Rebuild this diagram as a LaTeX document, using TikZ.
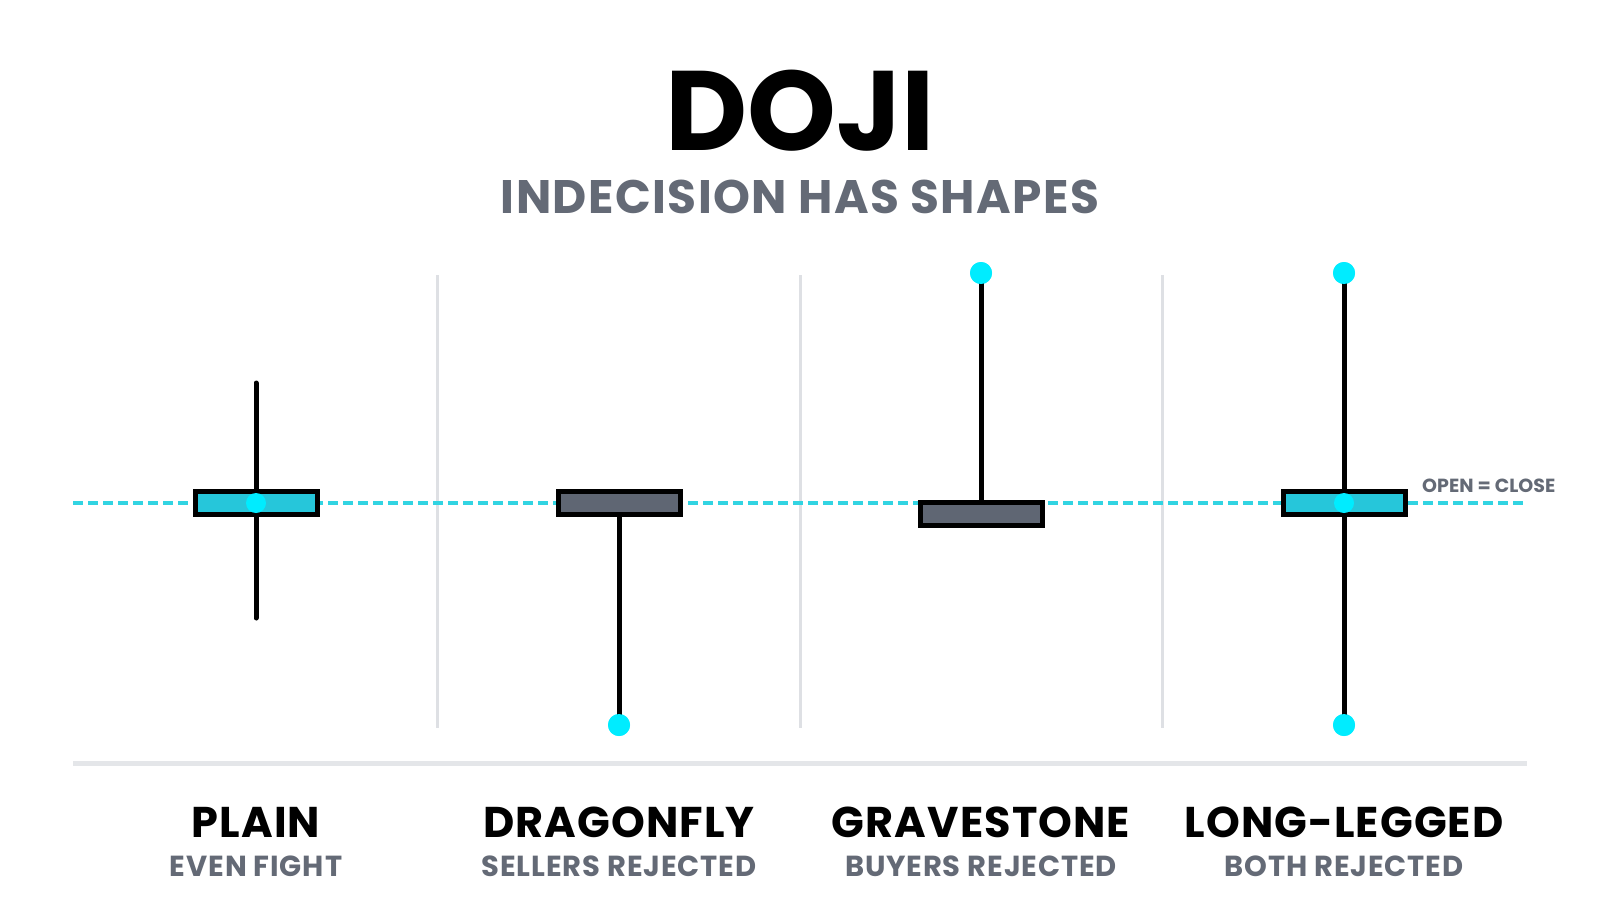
\documentclass[tikz,border=0pt]{standalone}
\usepackage{fontspec}
\setmainfont{Poppins}
\definecolor{dashcyan}{RGB}{50,212,226}
\definecolor{bodycyan}{RGB}{38,198,218}
\definecolor{dotcyan}{RGB}{0,236,255}
\definecolor{bodygray}{RGB}{95,102,115}
\definecolor{txtgray}{RGB}{100,106,118}
\definecolor{sepgray}{RGB}{222,224,228}
\definecolor{basegray}{RGB}{228,230,233}
\tikzset{
  candlebody/.style={draw=black, line width=5pt, minimum width=122pt, minimum height=23pt, inner sep=0pt, outer sep=0pt},
  wick/.style={draw=black, line width=5pt},
  enddot/.style={circle, fill=dotcyan, minimum size=22pt, inner sep=0pt, outer sep=0pt},
  middot/.style={circle, fill=dotcyan, minimum size=20pt, inner sep=0pt, outer sep=0pt},
  sepline/.style={draw=sepgray, line width=3pt},
  title/.style={anchor=base, inner sep=0pt, font=\fontsize{113}{113}\selectfont\bfseries, text=black},
  subtitle/.style={anchor=base, inner sep=0pt, font=\fontsize{47}{47}\selectfont\bfseries\addfontfeatures{LetterSpace=3}, text=txtgray},
  lbl/.style={anchor=base, inner sep=0pt, font=\fontsize{43}{43}\selectfont\bfseries\addfontfeatures{LetterSpace=2.5}, text=black},
  sublbl/.style={anchor=base, inner sep=0pt, font=\fontsize{29}{29}\selectfont\bfseries\addfontfeatures{LetterSpace=3}, text=txtgray},
  note/.style={anchor=base west, inner sep=0pt, font=\fontsize{19}{19}\selectfont\bfseries, text=txtgray},
}
\begin{document}
\begin{tikzpicture}[x=1pt, y=-1pt]
\useasboundingbox[fill=white] (0,0) rectangle (1600,914);
% titles
\node[title] (t) at (800,150) {DOJI};
\node[subtitle] (st) at (800,213) {INDECISION HAS SHAPES};
% separators
\coordinate (s1a) at (437,275); \coordinate (s1b) at (437,728);
\coordinate (s2a) at (800,275); \coordinate (s2b) at (800,728);
\coordinate (s3a) at (1162,275); \coordinate (s3b) at (1162,728);
\draw[sepline] (s1a) -- (s1b);
\draw[sepline] (s2a) -- (s2b);
\draw[sepline] (s3a) -- (s3b);
% baseline
\coordinate (bla) at (73,763); \coordinate (blb) at (1527,763);
\draw[draw=basegray, line width=5pt] (bla) -- (blb);
% open=close line
\coordinate (dla) at (73,503); \coordinate (dlb) at (1527,503);
\draw[draw=dashcyan, line width=3.5pt, dash pattern=on 10pt off 5pt] (dla) -- (dlb);
\node[note] (oc) at (1422,492) {OPEN = CLOSE};
% candle nodes
\node[candlebody, fill=bodycyan] (b1) at (256,503) {};
\node[candlebody, fill=bodygray] (b2) at (619,503) {};
\node[candlebody, fill=bodygray] (b3) at (981,513.5) {};
\node[candlebody, fill=bodycyan] (b4) at (1344,503) {};
\coordinate (w1t) at (256,383); \coordinate (w1b) at (256,618);
\node[enddot] (d2b) at (619,725) {};
\node[enddot] (d3t) at (981,273) {};
\node[enddot] (d4t) at (1344,273) {};
\node[enddot] (d4b) at (1344,725) {};
% wicks
\draw[wick, line cap=round] (w1t) -- (w1b);
\draw[wick] (b2.south) -- (d2b.center);
\draw[wick] (d3t.center) -- (b3.north);
\draw[wick] (d4t.center) -- (d4b.center);
% redraw bodies over wicks
\node[candlebody, fill=bodycyan] at (256,503) {};
\node[candlebody, fill=bodygray] at (619,503) {};
\node[candlebody, fill=bodygray] at (981,513.5) {};
\node[candlebody, fill=bodycyan] at (1344,503) {};
\node[middot] (m1) at (256,503) {};
\node[middot] (m4) at (1344,503) {};
\node[enddot] at (619,725) {};
\node[enddot] at (981,273) {};
\node[enddot] at (1344,273) {};
\node[enddot] at (1344,725) {};
% labels
\node[lbl] (l1) at (256,837) {PLAIN};
\node[lbl] (l2) at (619,837) {DRAGONFLY};
\node[lbl] (l3) at (981,837) {GRAVESTONE};
\node[lbl] (l4) at (1344,837) {LONG-LEGGED};
\node[sublbl] (sl1) at (256,876) {EVEN FIGHT};
\node[sublbl] (sl2) at (619,876) {SELLERS REJECTED};
\node[sublbl] (sl3) at (981,876) {BUYERS REJECTED};
\node[sublbl] (sl4) at (1344,876) {BOTH REJECTED};
\end{tikzpicture}
\end{document}
